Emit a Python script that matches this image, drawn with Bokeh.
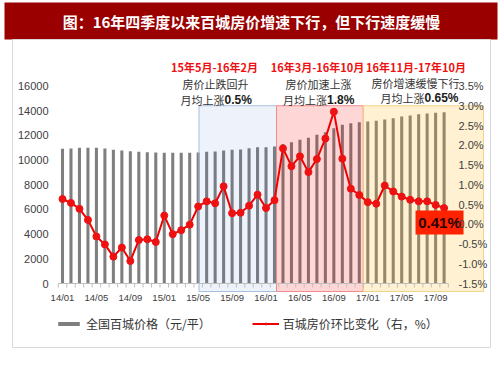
from bokeh.plotting import figure
from bokeh.models import Range1d, Legend, LegendItem, ColumnDataSource
from bokeh.core.properties import value
from bokeh.embed import file_html
from bokeh.resources import INLINE

# ---------------- data ----------------
months = [f"{14 + i // 12}/{i % 12 + 1:02d}" for i in range(46)]   # 14/01 .. 17/10
month_idx = list(range(46))

price = [10910, 10937, 10991, 10991, 10991, 10937, 10829, 10775, 10721, 10667, 10640, 10613,
         10586, 10586, 10586, 10586, 10613, 10667, 10694, 10775, 10829, 10856, 10964, 11030,
         11030, 11099, 11310, 11447, 11641, 11803, 12046, 12257, 12581, 12856, 12986, 13067,
         13124, 13180, 13286, 13391, 13529, 13610, 13715, 13772, 13829, 13877]

mom = [0.64, 0.54, 0.39, 0.11, -0.31, -0.51, -0.82, -0.59, -0.93, -0.40, -0.38, -0.45,
       0.22, -0.25, -0.15, -0.01, 0.45, 0.58, 0.53, 0.96, 0.28, 0.29, 0.47, 0.75,
       0.41, 0.61, 1.92, 1.47, 1.72, 1.32, 1.65, 2.17, 2.85, 1.66, 0.90, 0.74,
       0.56, 0.52, 0.98, 0.83, 0.70, 0.62, 0.58, 0.58, 0.49, 0.41]

x_tick_months = [0, 4, 8, 12, 16, 20, 24, 28, 32, 36, 40, 44]
x_tick_labels = ["14/01", "14/05", "14/09", "15/01", "15/05", "15/09",
                 "16/01", "16/05", "16/09", "17/01", "17/05", "17/09"]
left_ticks = [0, 2000, 4000, 6000, 8000, 10000, 12000, 14000, 16000]
right_ticks = [-1.5, -1.0, -0.5, 0.0, 0.5, 1.0, 1.5, 2.0, 2.5, 3.0, 3.5]

title_text = "图：16年四季度以来百城房价增速下行，但下行速度缓慢"
period_titles = ["15年5月-16年2月", "16年3月-16年10月", "16年11月-17年10月"]
period_descs = ["房价止跌回升", "房价加速上涨", "房价增速缓慢下行"]
period_avgs = ["0.5%", "1.8%", "0.65%"]
legend_labels = ["全国百城价格（元/平）", "百城房价环比变化（右，%）"]

# ---------------- geometry helpers (page pixels -> data) ----------------
X0P, XS = 62.0, 8.48            # page x of first month, px per month
Y0P, YS = 283.0, 197.5 / 16000  # page y of value 0, px per unit
PCT_BASE, PCT_UNIT = -1.5, 3200.0  # right axis: pct = -1.5 + v/3200


def X(px):
    return (px - X0P) / XS


def Y(py):
    return (Y0P - py) / YS


def P(py):
    return PCT_BASE + Y(py) / PCT_UNIT


W, H = 502, 372
p = figure(width=W, height=H, output_backend="svg", toolbar_location=None,
           x_range=Range1d(X(0), X(W)), y_range=Range1d(Y(H), Y(0)),
           x_axis_location=None, y_axis_location=None, min_border=0,
           outline_line_color=None, background_fill_color="white",
           border_fill_color="white")
p.extra_y_ranges = {"pct": Range1d(P(H), P(0))}
p.grid.visible = False

CJK = "Noto Sans CJK SC"
LAT = "Liberation Sans"

# title bar
p.quad(left=[X(4)], right=[X(497)], top=[Y(2)], bottom=[Y(39)],
       fill_color="#9a0000", line_color=None)
p.text(x=[X(251)], y=[Y(20.5)], text=[title_text], text_font=value(CJK),
       text_font_size="15px", text_font_style="bold", text_color="white",
       text_align="center", text_baseline="middle")

# outer frame
p.quad(left=[X(12)], right=[X(490)], top=[Y(39)], bottom=[Y(347)],
       fill_color=None, line_color="#d9d9d9", line_width=1)

# bars
src = ColumnDataSource(dict(m=month_idx, price=price, mom=mom, lab=months))
bars = p.vbar(x="m", top="price", bottom=0, width=0.36, source=src,
              fill_color="#7f7f7f", line_color=None)

# period shading boxes
box_left = [X(198.5), X(276), X(362.7)]
box_right = [X(276), X(362.7), X(483)]
box_fill = ["#1e5ac8", "#ff0000", "#ffaf00"]
box_alpha = [0.08, 0.16, 0.18]
box_line = ["#a9bfe0", "#f28b8b", "#f3d58a"]
p.quad(left=box_left, right=box_right, top=[3.0] * 3, bottom=[P(291)] * 3,
       fill_color=box_fill, fill_alpha=box_alpha, line_color=box_line,
       line_width=1, y_range_name="pct")

# x axis line and ticks
p.segment(x0=[-0.5], x1=[45.5], y0=[0], y1=[0], line_color="#bfbfbf", line_width=1)
tick_x = [m - 0.5 for m in range(47)]
p.segment(x0=tick_x, x1=tick_x, y0=[0] * 47, y1=[-4 / YS] * 47,
          line_color="#bfbfbf", line_width=1)

# red line
line = p.line(x="m", y="mom", source=src, line_color="#f00000", line_width=2,
              y_range_name="pct")
pts = p.scatter(x="m", y="mom", source=src, size=7, fill_color="#ee1111",
                line_color="#ee1111", y_range_name="pct")

# last-value callout
lx, lv = month_idx[-1], mom[-1]
bx0, bx1 = lx - 3.37, lx + 2.29
bt, bb = lv - 0.06, lv - 0.67
p.quad(left=[bx0], right=[bx1], top=[bt], bottom=[bb], fill_color="#fe2200",
       line_color=None, y_range_name="pct")
p.text(x=[(bx0 + bx1) / 2], y=[(bt + bb) / 2], text=[f"{lv:.2f}%"],
       text_font=value(LAT), text_font_size="15px", text_font_style="bold",
       text_color="#2b0000", text_align="center", text_baseline="middle",
       y_range_name="pct")

# tick labels
p.text(x=x_tick_months, y=[Y(297)] * len(x_tick_months), text=x_tick_labels,
       text_font=value(LAT), text_font_size="9.5px", text_color="#404040",
       text_align="center", text_baseline="middle")
p.text(x=[X(48)] * len(left_ticks), y=left_ticks, text=[str(v) for v in left_ticks],
       text_font=value(LAT), text_font_size="11px", text_color="#404040",
       text_align="right", text_baseline="middle")
p.text(x=[X(458)] * len(right_ticks), y=right_ticks,
       text=[f"{v:.1f}%" for v in right_ticks],
       text_font=value(LAT), text_font_size="11px", text_color="#404040",
       text_align="left", text_baseline="middle", y_range_name="pct")

# period annotations
head_x = [X(214), X(317), X(415.5)]
p.text(x=head_x, y=[Y(66)] * 3, text=period_titles, text_font=value(CJK),
       text_font_size="11px", text_font_style="bold", text_color="#ee1111",
       text_align="center", text_baseline="middle")
desc_x = [X(215), X(318), X(415)]
p.text(x=desc_x, y=[Y(83), Y(83), Y(82)], text=period_descs, text_font=value(CJK),
       text_font_size="11px", text_color="#333333",
       text_align="center", text_baseline="middle")
split_x = [X(224), X(326.5), X(424)]
avg_y = [Y(99), Y(99), Y(97)]
p.text(x=split_x, y=avg_y, text=["月均上涨"] * 3, text_font=value(CJK),
       text_font_size="11px", text_color="#333333",
       text_align="right", text_baseline="middle")
p.text(x=split_x, y=avg_y, text=period_avgs, text_font=value(LAT),
       text_font_size="12px", text_font_style="bold", text_color="#1a1a1a",
       text_align="left", text_baseline="middle")

# legend
legend = Legend(items=[LegendItem(label=legend_labels[0], renderers=[bars]),
                       LegendItem(label=legend_labels[1], renderers=[line, pts])],
                orientation="horizontal", location=(55, 40),
                glyph_width=27, glyph_height=5, label_standoff=4, spacing=41,
                padding=0, margin=0, label_height=12,
                label_text_font=CJK, label_text_font_size="12px",
                label_text_color="#333333", border_line_color=None,
                background_fill_alpha=0)
p.add_layout(legend, "center")

open("out.html", "w").write(file_html(p, INLINE))
